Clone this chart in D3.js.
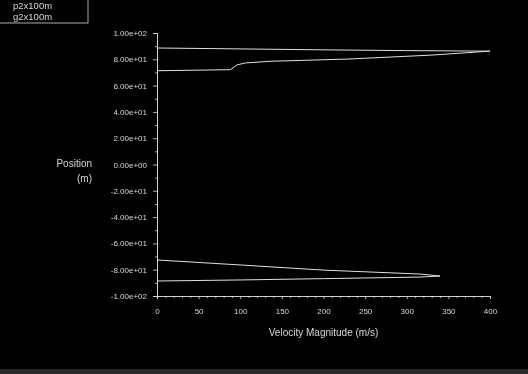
<!DOCTYPE html>
<html>
<head>
<meta charset="utf-8">
<script src="https://cdn.jsdelivr.net/npm/d3@7"></script>
<style>
  html, body { margin: 0; padding: 0; background: #000; }
  svg { display: block; font-family: "Liberation Sans", Arial, sans-serif; }
</style>
</head>
<body>
<svg id="chart" width="528" height="374"></svg>
<script>
// series names shown in the legend box
const seriesNames = ["p2x100m", "g2x100m"];

// upper profile (velocity m/s, position m)
const upperVelocity = [0, 100, 200, 300, 400, 330, 230, 136, 106, 96, 88, 0];
const upperPosition = [88.6, 87.9, 87.2, 86.6, 86.2, 83.2, 80.2, 78.5, 77.2, 75.7, 72.1, 71.3];

// lower profile
const lowerVelocity = [0, 100, 200, 316, 340, 316, 200, 100, 0];
const lowerPosition = [-72.6, -76.4, -80.3, -83.3, -84.8, -85.6, -86.8, -87.8, -88.6];

const xTicks = [0, 50, 100, 150, 200, 250, 300, 350, 400];
const yTicks = [100, 80, 60, 40, 20, 0, -20, -40, -60, -80, -100];

const svg = d3.select('#chart');
const W = 528, H = 374;
const fg = '#d8d8d8';

svg.append('rect').attr('width', W).attr('height', H).attr('fill', '#000');
svg.append('rect').attr('x', 0).attr('y', 369).attr('width', W).attr('height', 5).attr('fill', '#2a2a2a');

// slight softening like the original screenshot
const defs = svg.append('defs');
defs.append('filter').attr('id', 'soft')
    .append('feGaussianBlur').attr('stdDeviation', 0.45);

const g = svg.append('g').attr('filter', 'url(#soft)');

const x = d3.scaleLinear().domain([0, 400]).range([157, 490]);
const y = d3.scaleLinear().domain([-100, 100]).range([296, 33]);

// fluent-style exponent labels, e.g. 1.00e+02
const expFmt = d => d3.format('.2e')(d).replace('−', '-').replace(/e([+-])(\d)$/, 'e$10$2');

// y axis, major + minor ticks
g.append('g').attr('transform', `translate(${x(0)},0)`)
    .call(d3.axisLeft(y).tickValues(d3.range(-90, 100, 20)).tickSize(2).tickFormat(''));
g.append('g').attr('transform', `translate(${x(0)},0)`)
    .call(d3.axisLeft(y).tickValues(yTicks).tickSize(4).tickPadding(6).tickFormat(expFmt));

// x axis, major + minor ticks
g.append('g').attr('transform', `translate(0,${y(-100)})`)
    .call(d3.axisBottom(x).tickValues(d3.range(10, 400, 10).filter(v => v % 50)).tickSize(2).tickFormat(''));
g.append('g').attr('transform', `translate(0,${y(-100)})`)
    .call(d3.axisBottom(x).tickValues(xTicks).tickSize(3).tickPadding(9).tickFormat(d3.format('d')));

g.selectAll('.domain').attr('stroke', fg).attr('stroke-width', 0.8);
g.selectAll('.tick line').attr('stroke', fg).attr('stroke-width', 0.8);
g.selectAll('.tick text').attr('fill', fg).attr('font-size', 8);

// axis titles
g.append('text').attr('x', x(200)).attr('y', 336)
    .attr('text-anchor', 'middle').attr('fill', fg).attr('font-size', 10)
    .text('Velocity Magnitude (m/s)');
g.append('text').attr('x', 92).attr('y', 167)
    .attr('text-anchor', 'end').attr('fill', fg).attr('font-size', 10)
    .text('Position');
g.append('text').attr('x', 92).attr('y', 182)
    .attr('text-anchor', 'end').attr('fill', fg).attr('font-size', 10)
    .text('(m)');

// profile lines
const line = d3.line().x(d => x(d[0])).y(d => y(d[1]));
const series = [
    d3.zip(upperVelocity, upperPosition),
    d3.zip(lowerVelocity, lowerPosition)
];
g.append('g').selectAll('path')
    .data(series)
    .enter().append('path')
    .attr('d', line)
    .attr('fill', 'none')
    .attr('stroke', '#e0e0e0')
    .attr('stroke-width', 1);

// legend box
const legend = g.append('g');
legend.append('rect').attr('x', -2).attr('y', -4).attr('width', 90).attr('height', 27)
    .attr('fill', 'none').attr('stroke', fg).attr('stroke-width', 0.8);
legend.selectAll('text')
    .data(seriesNames)
    .enter().append('text')
    .attr('x', 13).attr('y', (d, i) => 9 + i * 11)
    .attr('fill', fg).attr('font-size', 9.5)
    .text(d => d);
</script>
</body>
</html>
